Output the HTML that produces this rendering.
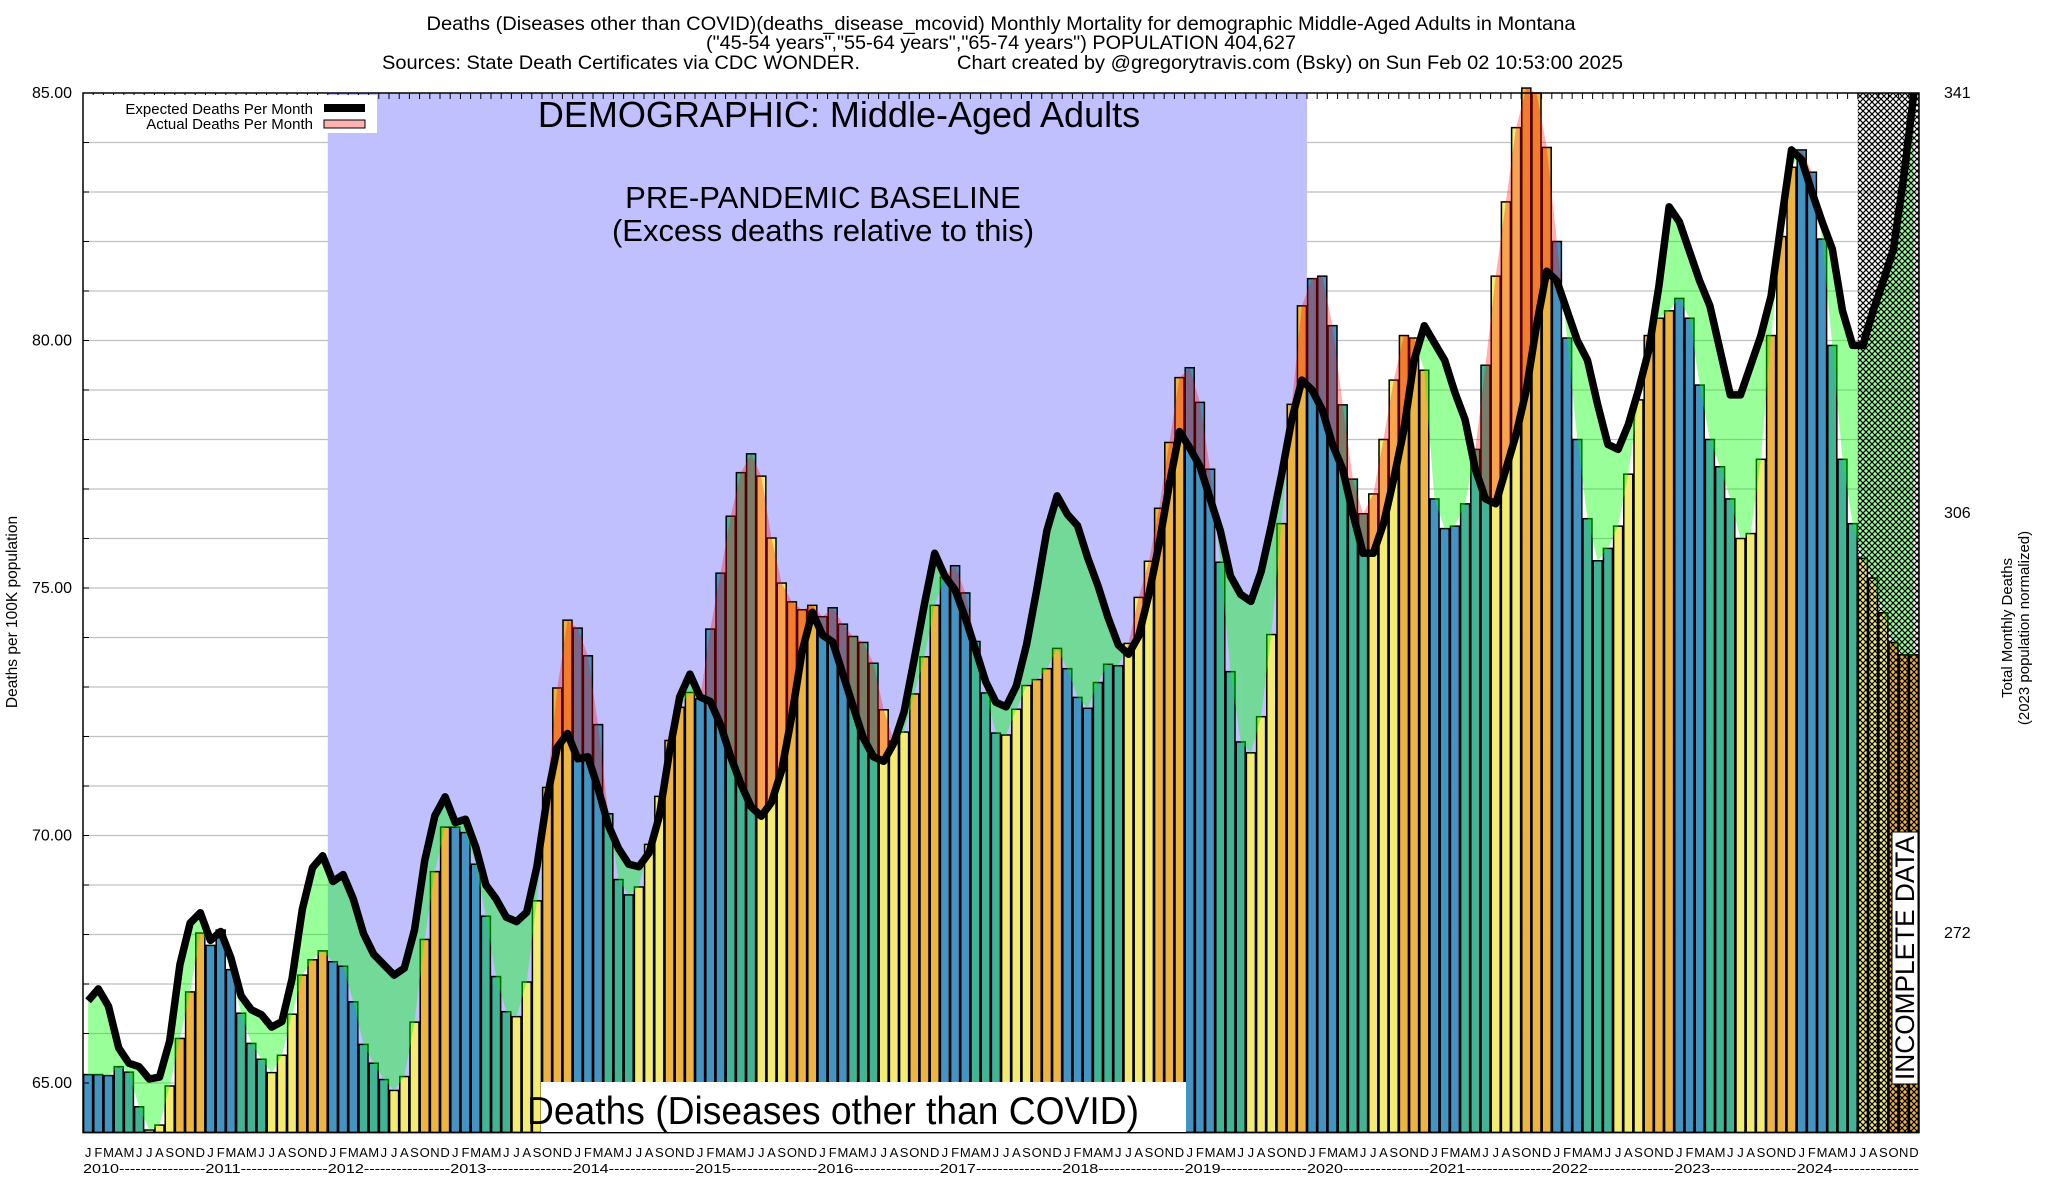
<!DOCTYPE html>
<html><head><meta charset="utf-8"><style>
html,body{margin:0;padding:0;background:#fff;}
svg{display:block;font-family:"Liberation Sans",sans-serif;}
</style></head><body>
<svg id="chart" width="2048" height="1200" viewBox="0 0 2048 1200" xmlns="http://www.w3.org/2000/svg">
<defs>
<pattern id="hatch" width="6" height="6" patternUnits="userSpaceOnUse">
<path d="M0,0 L6,6 M6,0 L0,6" stroke="#000" stroke-width="1.2"/>
</pattern>
</defs>
<g font-size="19.5" fill="#000">
<text x="1001" y="30" text-anchor="middle" textLength="1149" lengthAdjust="spacingAndGlyphs">Deaths (Diseases other than COVID)(deaths_disease_mcovid) Monthly Mortality for demographic Middle-Aged Adults in Montana</text>
<text x="1001" y="49" text-anchor="middle" textLength="590" lengthAdjust="spacingAndGlyphs">("45-54 years","55-64 years","65-74 years") POPULATION 404,627</text>
<text x="382" y="69" textLength="478" lengthAdjust="spacingAndGlyphs">Sources: State Death Certificates via CDC WONDER.</text>
<text x="957" y="69" textLength="666" lengthAdjust="spacingAndGlyphs">Chart created by @gregorytravis.com (Bsky) on Sun Feb 02 10:53:00 2025</text>
</g>
<g id="plot"></g>
<g id="overlay"></g>
</svg>
<script>
const years = ["2010","2011","2012","2013","2014","2015","2016","2017","2018","2019","2020","2021","2022","2023","2024"];
const monthLetters = ["J","F","M","A","M","J","J","A","S","O","N","D"];
const actualDeaths = [
65.17,65.17,65.15,65.33,65.22,64.52,64.05,64.15,64.94,65.9,66.84,68.03,
67.78,68.09,67.29,66.41,65.8,65.48,65.21,65.56,66.39,67.18,67.49,67.67,
67.45,67.36,66.64,65.78,65.4,65.07,64.85,65.13,66.23,67.9,69.27,70.17,
70.17,70.06,69.42,68.37,67.15,66.44,66.34,67.04,68.68,70.97,72.98,74.35,
74.19,73.63,72.24,70.44,69.11,68.8,68.96,69.82,70.79,71.92,72.59,72.89,
72.76,74.17,75.3,76.45,77.33,77.71,77.26,76.01,75.1,74.72,74.56,74.65,
74.42,74.6,74.27,74.02,73.9,73.48,72.54,71.91,72.09,72.86,73.61,74.65,
75.22,75.45,74.9,73.92,72.88,72.07,72.03,72.55,73.03,73.15,73.37,73.78,
73.37,72.79,72.57,73.09,73.46,73.43,73.88,74.81,75.54,76.61,77.94,79.25,
79.45,78.75,77.4,75.52,73.31,71.89,71.67,72.4,74.06,76.3,78.71,80.7,
81.25,81.3,80.3,78.7,77.2,76.5,76.9,78.0,79.2,80.1,80.05,79.4,
76.8,76.2,76.25,76.7,77.8,79.5,81.3,82.8,84.3,85.1,85.0,83.9,
82.0,80.05,78.0,76.4,75.55,75.8,76.25,77.3,78.8,80.1,80.45,80.6,
80.85,80.45,79.1,78.0,77.45,76.8,76.0,76.1,77.6,80.1,82.1,83.5,
83.85,83.4,82.05,79.9,77.6,76.3,75.6,75.2,74.5,73.9,73.65,73.65];
const expectedDeaths = [
66.66,66.9,66.55,65.71,65.4,65.33,65.08,65.12,65.85,67.39,68.23,68.44,
67.88,68.06,67.53,66.76,66.48,66.38,66.13,66.24,67.11,68.51,69.35,69.59,
69.07,69.21,68.72,68.02,67.6,67.39,67.18,67.32,68.09,69.49,70.4,70.78,
70.26,70.33,69.77,69.0,68.72,68.35,68.26,68.45,69.37,70.76,71.78,72.06,
71.55,71.59,70.95,70.21,69.74,69.42,69.37,69.65,70.39,71.69,72.8,73.26,
72.8,72.71,72.24,71.59,71.04,70.58,70.39,70.67,71.32,72.43,73.72,74.51,
74.05,73.91,73.26,72.61,71.97,71.59,71.5,71.87,72.5,73.57,74.68,75.7,
75.24,74.96,74.4,73.76,73.11,72.69,72.6,73.02,73.85,74.96,76.16,76.86,
76.49,76.26,75.61,75.05,74.4,73.85,73.66,74.03,74.87,75.89,77.09,78.16,
77.83,77.46,76.81,76.16,75.24,74.87,74.73,75.33,76.26,77.28,78.4,79.2,
79.0,78.6,77.9,77.4,76.5,75.7,75.7,76.3,77.2,78.2,79.6,80.3,
79.95,79.6,78.95,78.4,77.4,76.8,76.7,77.4,78.1,79.0,80.3,81.4,
81.2,80.6,80.0,79.6,78.7,77.9,77.8,78.3,79.0,79.8,81.1,82.7,
82.4,81.8,81.2,80.7,79.8,78.9,78.9,79.5,80.1,80.9,82.4,83.85,
83.65,83.0,82.4,81.85,80.6,79.9,79.9,80.6,81.2,81.85,83.3,85.0];
const yTicks = [65, 70, 75, 80, 85];
const yTickLabels = ["65.00","70.00","75.00","80.00","85.00"];
const rightTickLabels = ["341","306","272"];
const baselineStart = 24, baselineEnd = 120, incompleteStart = 174;

const NS = "http://www.w3.org/2000/svg";
const X0 = 83, X1 = 1919, YMIN = 64, YMAX = 85, TOP = 93, UNIT = 49.5;
const N = actualDeaths.length;
const BW = (X1 - X0) / N;
function xl(i){ return X0 + BW * i; }
function xc(i){ return X0 + BW * (i + 0.5); }
function y(v){ return TOP + (YMAX - v) * UNIT; }
const BOTTOM = y(YMIN);
const plot = document.getElementById('plot');
const overlay = document.getElementById('overlay');
function mk(tag, attrs, parent){ const e = document.createElementNS(NS, tag); for (const k in attrs) e.setAttribute(k, attrs[k]); (parent||plot).appendChild(e); return e; }
const colors = ["#4393c3","#4393c3","#4393c3","#41b496","#41b496","#41b496","#f4ec72","#f4ec72","#f4ec72","#eeb441","#eeb441","#eeb441"];

for (let v = YMIN + 1; v < YMAX; v++) {
  const g = mk('line', {x1: X0, x2: X1, y1: y(v), y2: y(v), stroke: '#c0c0c0', 'stroke-width': 1.3});
  
  
}
const base = mk('rect', {x: xl(baselineStart), y: TOP, width: xl(baselineEnd) - xl(baselineStart), height: BOTTOM - TOP, fill: '#c0c0ff'});



for (let i = 0; i < N; i++) {
  const b = mk('rect', {x: xl(i) + 0.6, y: y(actualDeaths[i]), width: BW - 1.2, height: BOTTOM - y(actualDeaths[i]), fill: colors[i % 12], stroke: '#000', 'stroke-width': 1.5});
  
  
}

const fills = document.createElementNS(NS, 'g');


plot.appendChild(fills);
function poly(pts, col){
  const p = mk('polygon', {points: pts.map(q => q[0].toFixed(1) + ',' + q[1].toFixed(1)).join(' '), fill: col}, fills);
  
  
}
const RED = 'rgba(255,0,0,0.31)', GREEN = 'rgba(0,255,0,0.4)';
for (let i = 0; i < N - 1; i++) {
  const a0 = actualDeaths[i], a1 = actualDeaths[i+1], e0 = expectedDeaths[i], e1 = expectedDeaths[i+1];
  const d0 = a0 - e0, d1 = a1 - e1;
  const xa = xc(i), xb = xc(i+1);
  if (d0 * d1 >= 0) {
    poly([[xa,y(a0)],[xb,y(a1)],[xb,y(e1)],[xa,y(e0)]], (d0 + d1) > 0 ? RED : GREEN);
  } else {
    const t = d0 / (d0 - d1);
    const xm = xa + (xb - xa) * t, vm = e0 + (e1 - e0) * t;
    poly([[xa,y(a0)],[xm,y(vm)],[xa,y(e0)]], d0 > 0 ? RED : GREEN);
    poly([[xm,y(vm)],[xb,y(a1)],[xb,y(e1)]], d1 > 0 ? RED : GREEN);
  }
}

let d = '';
for (let i = 0; i < N; i++) d += (i ? 'L' : 'M') + xc(i).toFixed(1) + ',' + y(expectedDeaths[i]).toFixed(1);
const line = mk('path', {d: d, fill: 'none', stroke: '#000', 'stroke-width': 7.5, 'stroke-linejoin': 'round', 'stroke-linecap': 'butt'});



const hatch = mk('rect', {x: xl(incompleteStart), y: TOP, width: X1 - xl(incompleteStart), height: BOTTOM - TOP, fill: 'url(#hatch)'});



const frame = mk('rect', {x: X0, y: TOP, width: X1 - X0, height: BOTTOM - TOP, fill: 'none', stroke: '#000', 'stroke-width': 1.5});


for (let i = 0; i <= N; i++) {
  const t = mk('line', {x1: xl(i), x2: xl(i), y1: TOP, y2: TOP + 6, stroke: '#000', 'stroke-width': 1});
  
  
}
for (let v = YMIN + 1; v < YMAX; v++) {
  const t = mk('line', {x1: X0, x2: X0 + 6, y1: y(v), y2: y(v), stroke: '#000', 'stroke-width': 1});
  
  
}
yTicks.forEach((v, k) => {
  const t = mk('text', {x: 72, y: y(v) + 5, 'text-anchor': 'end', 'font-size': 16}, overlay);
  t.textContent = yTickLabels[k];
  
  
});
const rightY = [93, 513, 933];
rightTickLabels.forEach((s, k) => {
  const t = mk('text', {x: 1944, y: rightY[k] + 5, 'font-size': 16}, overlay);
  t.textContent = s;
  
  
});
for (let i = 0; i < N; i++) {
  const t = mk('text', {x: xc(i), y: 1157, 'text-anchor': 'middle', 'font-size': 13}, overlay);
  t.textContent = monthLetters[i % 12];
  
  
}
years.forEach((yr, k) => {
  const t = mk('text', {x: xl(k * 12), y: 1173, 'font-size': 13, textLength: BW * 12, lengthAdjust: 'spacingAndGlyphs'}, overlay);
  t.textContent = yr + '----------------';
  
  
});
</script>
<script>
(function(){
const ov = document.getElementById('overlay');
ov.insertAdjacentHTML('beforeend', `
<g>
<rect x="85" y="95" width="292" height="38" fill="#fff"/>
<text x="313" y="114" text-anchor="end" font-size="15">Expected Deaths Per Month</text>
<rect x="324" y="104" width="41" height="8" fill="#000"/>
<text x="313" y="129" text-anchor="end" font-size="15">Actual Deaths Per Month</text>
<rect x="324" y="120" width="41" height="8" fill="#ffb0b0" stroke="#000" stroke-width="1"/>
</g>
<text x="839" y="127" text-anchor="middle" font-size="36">DEMOGRAPHIC: Middle-Aged Adults</text>
<text x="823" y="208" text-anchor="middle" font-size="31">PRE-PANDEMIC BASELINE</text>
<text x="823" y="241" text-anchor="middle" font-size="31">(Excess deaths relative to this)</text>
<rect x="541" y="1082" width="645" height="50" fill="#fff"/>
<text x="527" y="1124" font-size="39" textLength="612" lengthAdjust="spacingAndGlyphs">Deaths (Diseases other than COVID)</text>
<rect x="1892" y="832" width="26" height="252" fill="#fff" stroke="#000" stroke-width="1"/>
<text transform="translate(1914,1080) rotate(-90)" font-size="27" textLength="244" lengthAdjust="spacingAndGlyphs">INCOMPLETE DATA</text>
<text transform="translate(17,612) rotate(-90)" text-anchor="middle" font-size="15.5">Deaths per 100K population</text>
<text transform="translate(2012,628) rotate(-90)" text-anchor="middle" font-size="15">Total Monthly Deaths</text>
<text transform="translate(2029,628) rotate(-90)" text-anchor="middle" font-size="15">(2023 population normalized)</text>
`);
})();
</script>
</body></html>
